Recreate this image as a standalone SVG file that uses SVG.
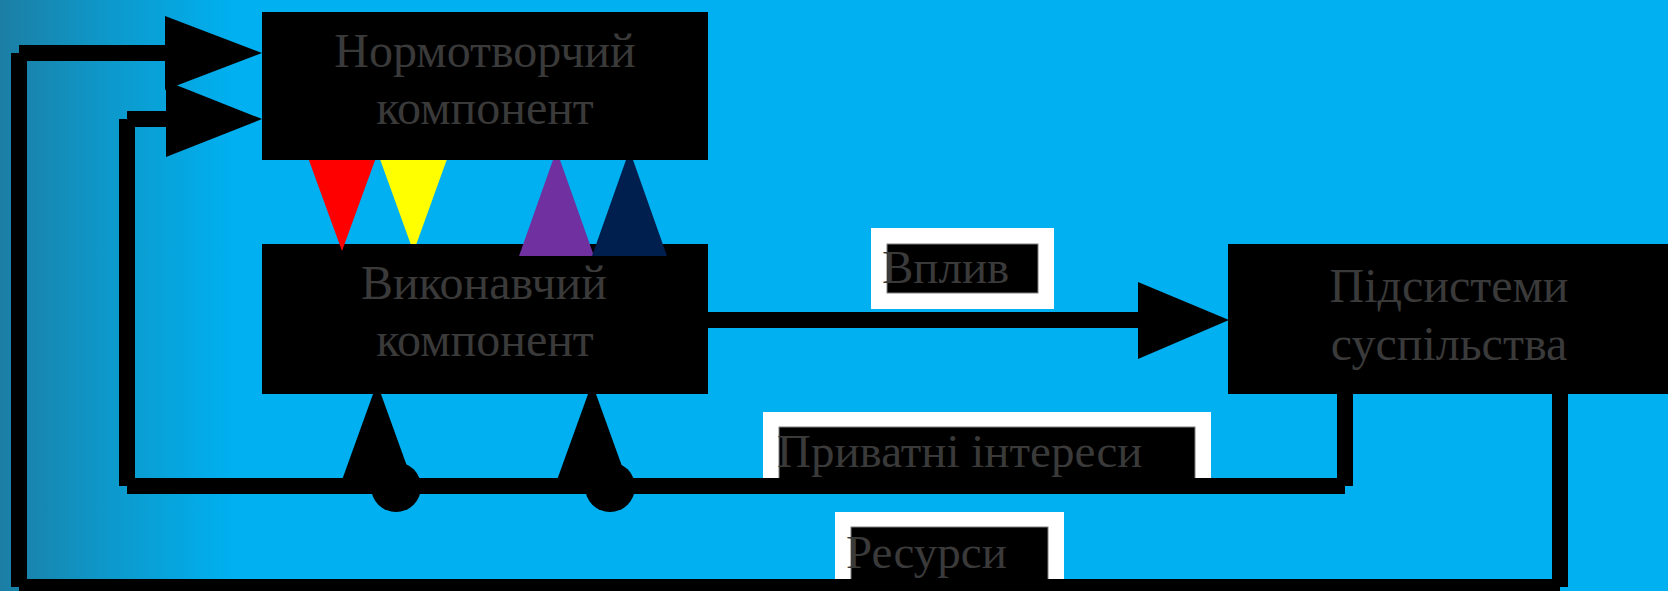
<svg xmlns="http://www.w3.org/2000/svg" width="1668" height="591" viewBox="0 0 1668 591">
<defs>
<linearGradient id="bg" x1="0" y1="0" x2="1668" y2="0" gradientUnits="userSpaceOnUse">
<stop offset="0" stop-color="#1c7ea4"/>
<stop offset="0.06" stop-color="#0e97c8"/>
<stop offset="0.14" stop-color="#00b0f0"/>
<stop offset="1" stop-color="#00b0f0"/>
</linearGradient>
<style>
.ln{stroke:#000;stroke-width:16;fill:none;stroke-linecap:butt}
.box{fill:#000}
.t{font-family:"Liberation Serif","Times New Roman",serif;font-size:47px;fill:#3a3a3a}
.bt{font-size:48px}
.c{text-anchor:middle}
.lblo{fill:#fff}
.lbli{fill:#000;stroke:#7f7f7f;stroke-width:1}
</style>
</defs>
<rect x="0" y="0" width="1668" height="591" fill="url(#bg)"/>

<g id="labels">
<g id="label-vplyv">
<rect class="lblo" x="871" y="228" width="183" height="81"/>
<rect class="lbli" x="887" y="244" width="151" height="49"/>
<text class="t" x="882" y="283">Вплив</text>
</g>
<g id="label-pryvatni">
<rect class="lblo" x="763" y="412" width="448" height="74"/>
<rect class="lbli" x="779" y="427" width="416" height="59"/>
<text class="t" x="777" y="467">Приватні інтереси</text>
</g>
<g id="label-resursy">
<rect class="lblo" x="835" y="512" width="229" height="75"/>
<rect class="lbli" x="851" y="527" width="197" height="60"/>
<text class="t" x="846" y="568">Ресурси</text>
</g>
</g>

<g id="connectors">
<line class="ln" x1="1560" y1="393" x2="1560" y2="587"/>
<line class="ln" x1="1560" y1="587" x2="19" y2="587"/>
<line class="ln" x1="19" y1="587" x2="19" y2="53"/>
<line class="ln" x1="19" y1="53" x2="170" y2="53"/>
<polygon points="165,16 262,53 165,90" fill="#000"/>
<line class="ln" x1="1345" y1="393" x2="1345" y2="486"/>
<line class="ln" x1="1345" y1="486" x2="127" y2="486"/>
<line class="ln" x1="127" y1="486" x2="127" y2="119"/>
<line class="ln" x1="127" y1="119" x2="170" y2="119"/>
<polygon points="166,81 262,119 166,157" fill="#000"/>
<line class="ln" x1="708" y1="320" x2="1140" y2="320"/>
<polygon points="1138,282 1229,320 1138,359" fill="#000"/>
<polygon points="377,383 339.5,487 414.5,487" fill="#000"/>
<circle cx="396" cy="487" r="25" fill="#000"/>
<polygon points="592,383 554.5,487 629.5,487" fill="#000"/>
<circle cx="610" cy="487" r="25" fill="#000"/>
<polygon points="376,148 451,148 413.5,252" fill="#ffff00"/>
</g>

<g id="node-vykonavchyi">
<rect class="box" x="262" y="244" width="446" height="150"/>
<text class="t bt c" x="484" y="299">Виконавчий</text>
<text class="t bt c" x="485" y="356">компонент</text>
</g>

<g id="colored-arrows">
<polygon points="304.5,148 379.5,148 342,251" fill="#ff0000"/>
<polygon points="519,256 594,256 556.5,150" fill="#7030a0"/>
<polygon points="592,256 667,256 629.5,150" fill="#001f4f"/>
</g>

<g id="node-normotvorchyi">
<rect class="box" x="262" y="12" width="446" height="148"/>
<text class="t bt c" x="485" y="67">Нормотворчий</text>
<text class="t bt c" x="485" y="124">компонент</text>
</g>

<g id="node-pidsystemy">
<rect class="box" x="1228" y="244" width="440" height="150"/>
<text class="t bt c" x="1449" y="302">Підсистеми</text>
<text class="t bt c" x="1449" y="360">суспільства</text>
</g>
</svg>
